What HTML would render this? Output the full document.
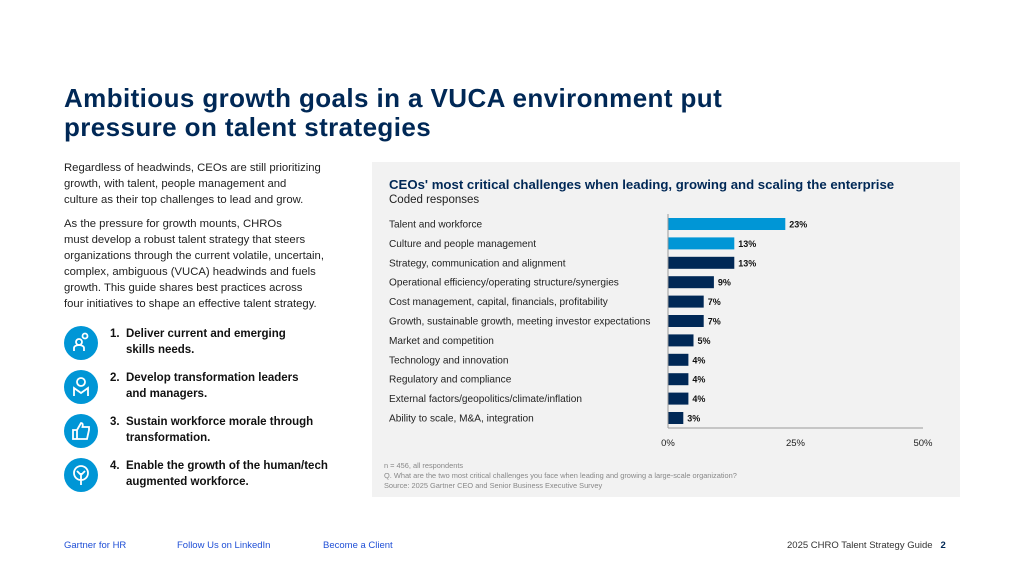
<!DOCTYPE html>
<html><head><meta charset="utf-8">
<style>
*{margin:0;padding:0;box-sizing:border-box}
body{width:1024px;height:576px;background:#fff;font-family:"Liberation Sans",sans-serif;position:relative;overflow:hidden;color:#1a1a1a}
.abs{position:absolute}
h1{position:absolute;left:64px;top:84px;font-size:26px;line-height:29px;font-weight:bold;color:#002856;letter-spacing:0.4px;width:760px;white-space:nowrap}
.p{position:absolute;left:64px;font-size:11.3px;line-height:16px;color:#222;white-space:nowrap}
.item{position:absolute;left:64px;height:34px;width:300px}
.circ{position:absolute;left:0;top:0;width:34px;height:34px;border-radius:50%;background:#0096d6}
.it{position:absolute;left:46px;top:1px;font-size:11.5px;line-height:15.5px;font-weight:bold;color:#111}
.foot{position:absolute;top:540px;font-size:9.5px;color:#1f4fd6}
</style></head><body>
<h1>Ambitious growth goals in a VUCA environment put<br>pressure on talent strategies</h1>
<div class="p" style="top:160px">Regardless of headwinds, CEOs are still prioritizing<br>growth, with talent, people management and<br>culture as their top challenges to lead and grow.</div>
<div class="p" style="top:216px">As the pressure for growth mounts, CHROs<br>must develop a robust talent strategy that steers<br>organizations through the current volatile, uncertain,<br>complex, ambiguous (VUCA) headwinds and fuels<br>growth. This guide shares best practices across<br>four initiatives to shape an effective talent strategy.</div>

<div class="item" style="top:326px"><div class="circ"><svg width="34" height="34"><g stroke="#fff" stroke-width="1.8" fill="none"><circle cx="15" cy="16" r="3"/><path d="M10 25v-3a5 3 0 0 1 10 0v3"/><circle cx="21" cy="10" r="2.5"/></g></svg></div><div class="it">1.&nbsp; Deliver current and emerging<br>&nbsp;&nbsp;&nbsp;&nbsp;&nbsp;skills needs.</div></div>
<div class="item" style="top:370px"><div class="circ"><svg width="34" height="34"><g stroke="#fff" stroke-width="1.8" fill="none"><circle cx="17" cy="12" r="4"/><path d="M10 26v-8l7 5 7-5v8"/></g></svg></div><div class="it">2.&nbsp; Develop transformation leaders<br>&nbsp;&nbsp;&nbsp;&nbsp;&nbsp;and managers.</div></div>
<div class="item" style="top:414px"><div class="circ"><svg width="34" height="34"><g stroke="#fff" stroke-width="1.8" fill="none"><path d="M9 16h4v9H9zM13 16l4-7c2 0 2 2 1.5 4H25v3l-2 9H13"/></g></svg></div><div class="it">3.&nbsp; Sustain workforce morale through<br>&nbsp;&nbsp;&nbsp;&nbsp;&nbsp;transformation.</div></div>
<div class="item" style="top:458px"><div class="circ"><svg width="34" height="34"><g stroke="#fff" stroke-width="1.8" fill="none"><circle cx="17" cy="15" r="7"/><path d="M17 15v12M13 13l4 4 4-4"/></g></svg></div><div class="it">4.&nbsp; Enable the growth of the human/tech<br>&nbsp;&nbsp;&nbsp;&nbsp;&nbsp;augmented workforce.</div></div>

<div class="abs" style="left:372px;top:162px;width:588px;height:335px;background:#f2f2f2"></div>
<div class="abs" style="left:389px;top:177px;font-size:13.2px;font-weight:bold;color:#002856;letter-spacing:0px;white-space:nowrap">CEOs' most critical challenges when leading, growing and scaling the enterprise</div>
<div class="abs" style="left:389px;top:194px;font-size:11.5px;color:#222">Coded responses</div>
<svg class="abs" style="left:0;top:0" width="1024" height="576" id="chart"></svg>
<div class="abs" style="left:384px;top:461px;font-size:7.4px;line-height:10px;color:#888;white-space:nowrap">n = 456, all respondents<br>Q. What are the two most critical challenges you face when leading and growing a large-scale organization?<br>Source: 2025 Gartner CEO and Senior Business Executive Survey</div>

<div class="foot" style="left:64px">Gartner for HR</div>
<div class="foot" style="left:177px">Follow Us on LinkedIn</div>
<div class="foot" style="left:323px">Become a Client</div>
<div class="foot" style="left:787px;color:#333">2025 CHRO Talent Strategy Guide&nbsp;&nbsp;&nbsp;<b style="color:#002856">2</b></div>

<script>
const categories=["Talent and workforce","Culture and people management","Strategy, communication and alignment","Operational efficiency/operating structure/synergies","Cost management, capital, financials, profitability","Growth, sustainable growth, meeting investor expectations","Market and competition","Technology and innovation","Regulatory and compliance","External factors/geopolitics/climate/inflation","Ability to scale, M&A, integration"];
const values=[23,13,13,9,7,7,5,4,4,4,3];
const ticks=[0,25,50];
const tickLabels=["0%","25%","50%"];
const NS="http://www.w3.org/2000/svg";
const svg=document.getElementById('chart');
const x0=668,x1=923,yTop=214,yBot=428,rowStep=19.4,row0=224;
const xs=v=>x0+(v-0)/(50-0)*(x1-x0);
const ys=i=>row0+i*rowStep;
function mk(t,a){const e=document.createElementNS(NS,t);for(const k in a)e.setAttribute(k,a[k]);svg.appendChild(e);return e;}
categories.forEach((c,i)=>{
  const lab=mk('text',{x:389,y:ys(i)+3.5,'font-size':'10.1','fill':'#222'});
  lab.textContent=c;
  
  
  const b=mk('rect',{x:x0,y:ys(i)-6,width:xs(values[i])-x0,height:12,fill:i<2?'#0096d6':'#002856'});
  
  
  const v=mk('text',{x:xs(values[i])+4,y:ys(i)+3.5,'font-size':'9','font-weight':'bold','fill':'#111'});
  v.textContent=values[i]+'%';
  
  
});
const ya=mk('line',{x1:x0,x2:x0,y1:yTop,y2:yBot,stroke:'#999','stroke-width':1});


const xa=mk('line',{x1:x0,x2:x1,y1:yBot,y2:yBot,stroke:'#999','stroke-width':1});


ticks.forEach((t,i)=>{
  const tl=mk('text',{x:xs(t),y:446,'font-size':'9.5','text-anchor':'middle','fill':'#222'});
  tl.textContent=tickLabels[i];
  
  
});
</script>
</body></html>
